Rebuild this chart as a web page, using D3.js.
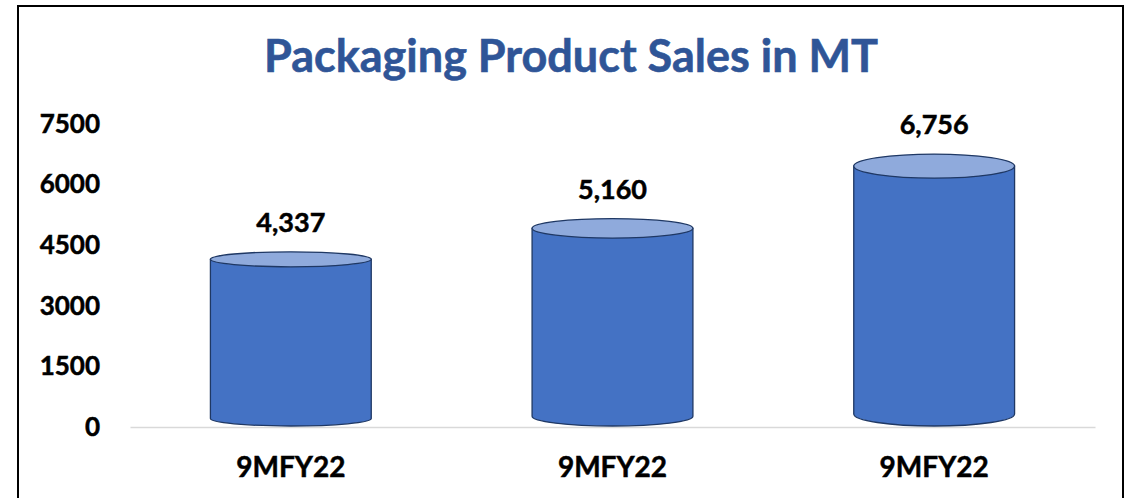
<!DOCTYPE html>
<meta charset="utf-8">
<style>
body { margin: 0; background: #fff; }
svg { display: block; }
text { font-family: Lato, "Open Sans", sans-serif; font-weight: bold; }
</style>
<body>
<svg id="chart" width="1133" height="498"></svg>
<script src="https://cdnjs.cloudflare.com/ajax/libs/d3/7.8.5/d3.min.js"></script>
<script>

var categories = ["9MFY22", "9MFY22", "9MFY22"];
var sales = [4337, 5160, 6756];
var tickLabels = [0, 1500, 3000, 4500, 6000, 7500];
var title = "Packaging Product Sales in MT";

var svg = d3.select("#chart");

// outer frame (bottom edge is cut off in the original)
svg.append("rect")
    .attr("x", 18).attr("y", 6)
    .attr("width", 1105).attr("height", 520)
    .attr("fill", "none")
    .attr("stroke", "#000")
    .attr("stroke-width", 2);

svg.append("text")
    .attr("x", 571).attr("y", 72)
    .attr("text-anchor", "middle")
    .attr("fill", "#2F5597")
    .attr("stroke", "#2F5597")
    .attr("stroke-width", 0.6)
    .style("font-size", "45px")
    .text(title);

var x = d3.scaleBand()
    .domain(d3.range(categories.length))
    .range([130, 1095])
    .paddingInner(0.5)
    .paddingOuter(0.25);

var y = d3.scaleLinear()
    .domain([0, 7500])
    .range([427, 124]);

// y axis, labels only
var yAxis = svg.append("g")
    .attr("transform", "translate(100,0)")
    .call(d3.axisLeft(y).tickValues(tickLabels).tickSize(0).tickPadding(0).tickFormat(d3.format("d")));
yAxis.select(".domain").remove();
yAxis.selectAll("text")
    .attr("fill", "#000")
    .attr("stroke", "#000")
    .attr("stroke-width", 0.5)
    .style("font-size", "26px")
    .style("font-family", "Lato, sans-serif")
    .style("font-weight", "bold");

// x axis, light baseline
var xAxis = svg.append("g")
    .attr("transform", "translate(0," + y(0) + ")")
    .call(d3.axisBottom(x).tickSize(0).tickFormat(function(i) { return categories[i]; }));
xAxis.select(".domain").attr("stroke", "#d9d9d9").attr("stroke-width", 1.5);
xAxis.selectAll("text")
    .attr("y", 50).attr("dy", 0)
    .attr("fill", "#000")
    .attr("stroke", "#000")
    .attr("stroke-width", 0.5)
    .style("font-size", "28px")
    .style("font-family", "Lato, sans-serif")
    .style("font-weight", "bold");

// cylinders - ellipses get a bit taller to the right (perspective)
var rx = x.bandwidth() / 2;
function ry(i) { return 7.5 + (x(i) + rx - 290) * 0.007; }

var bars = svg.append("g").selectAll("g")
    .data(sales)
    .join("g");

bars.append("path")
    .attr("fill", "#4472C4")
    .attr("stroke", "#1F3864")
    .attr("stroke-width", 1.3)
    .attr("d", function(d, i) {
      var l = x(i), r = x(i) + x.bandwidth();
      var yt = y(d) + ry(i), yb = y(0) - 1 - ry(i);
      return "M" + l + "," + yt + "L" + l + "," + yb +
        "A" + rx + "," + ry(i) + " 0 0 0 " + r + "," + yb +
        "L" + r + "," + yt + "Z";
    });

bars.append("ellipse")
    .attr("cx", function(d, i) { return x(i) + rx; })
    .attr("cy", function(d, i) { return y(d) + ry(i); })
    .attr("rx", rx)
    .attr("ry", function(d, i) { return ry(i); })
    .attr("fill", "#8FAADC")
    .attr("stroke", "#1F3864")
    .attr("stroke-width", 1.3);

bars.append("text")
    .attr("x", function(d, i) { return x(i) + rx; })
    .attr("y", function(d) { return y(d) - 20; })
    .attr("text-anchor", "middle")
    .attr("fill", "#000")
    .attr("stroke", "#000")
    .attr("stroke-width", 0.5)
    .style("font-size", "27px")
    .text(function(d) { return d3.format(",")(d); });

</script>
</body>
